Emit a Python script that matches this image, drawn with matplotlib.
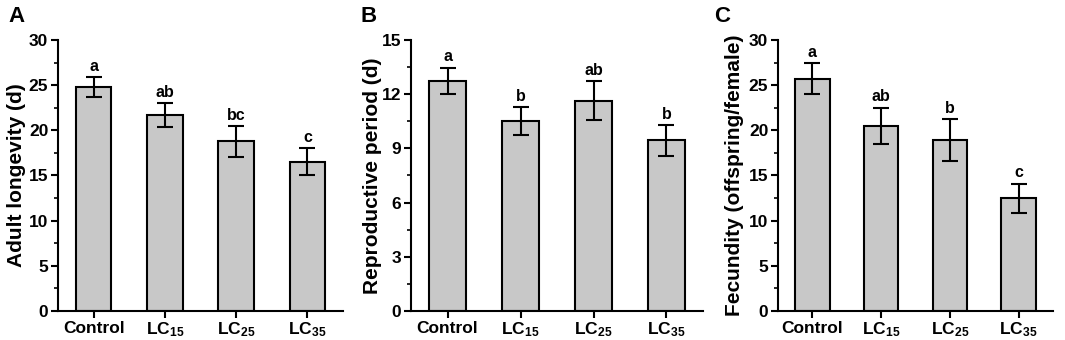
import numpy as np
import matplotlib
matplotlib.use("Agg")
import matplotlib.pyplot as plt
from matplotlib.ticker import AutoMinorLocator

plt.rcParams["font.family"] = ["Liberation Sans", "DejaVu Sans"]
plt.rcParams["font.weight"] = "bold"
plt.rcParams["mathtext.fontset"] = "custom"
plt.rcParams["mathtext.rm"] = "Liberation Sans:bold"
plt.rcParams["mathtext.default"] = "rm"

# --- data ---
groups = ["Control", "LC$_{15}$", "LC$_{25}$", "LC$_{35}$"]

longevity = [24.8, 21.7, 18.8, 16.5]
longevity_se = [1.1, 1.35, 1.7, 1.5]
longevity_sig = ["a", "ab", "bc", "c"]

repro = [12.75, 10.5, 11.65, 9.45]
repro_se = [0.72, 0.77, 1.07, 0.85]
repro_sig = ["a", "b", "ab", "b"]

fecundity = [25.7, 20.5, 18.9, 12.5]
fecundity_se = [1.7, 2.0, 2.3, 1.6]
fecundity_sig = ["a", "ab", "b", "c"]

panels = [
    ("A", longevity, longevity_se, longevity_sig, "Adult longevity (d)", 30, 5),
    ("B", repro, repro_se, repro_sig, "Reproductive period (d)", 15, 3),
    ("C", fecundity, fecundity_se, fecundity_sig, "Fecundity (offspring/female)", 30, 5),
]

# axes boxes in pixels (left, right); y from 40 to 311
W, H = 1065, 340
boxes = [(58, 343), (411, 703), (778, 1053)]
label_off = [-42, -38, -43]
letter_x = [8, 360, 714]

fig = plt.figure(figsize=(W / 100, H / 100), dpi=100)

for (lab, vals, errs, sig, ylabel, ymax, step), (x0, x1), off, lx in zip(panels, boxes, label_off, letter_x):
    ax = fig.add_axes([x0 / W, 1 - 311 / H, (x1 - x0) / W, (311 - 40) / H])
    x = np.arange(len(groups))
    ax.bar(x, vals, width=0.5, color="#c8c8c8", edgecolor="black", linewidth=1.5, zorder=2)
    ax.errorbar(x, vals, yerr=errs, fmt="none", ecolor="black", elinewidth=1.5,
                capsize=5.5, capthick=1.5, zorder=3)
    for xi, v, e, s in zip(x, vals, errs, sig):
        ax.text(xi, v + e + ymax * 0.012, s, ha="center", va="bottom",
                fontsize=11.5, fontweight="bold")
    ax.set_xlim(-0.5, 3.5)
    ax.set_ylim(0, ymax)
    ax.set_yticks(np.arange(0, ymax + 0.1, step))
    ax.yaxis.set_minor_locator(AutoMinorLocator(2))
    ax.set_xticks(x)
    ax.set_xticklabels(groups)
    ax.spines["top"].set_visible(False)
    ax.spines["right"].set_visible(False)
    ax.spines["left"].set_linewidth(1.5)
    ax.spines["bottom"].set_linewidth(1.5)
    ax.tick_params(axis="both", which="major", direction="out", length=5, width=1.5,
                   labelsize=12.5, pad=2)
    ax.tick_params(axis="y", which="minor", direction="out", length=3, width=1.2)
    for t in ax.get_xticklabels() + ax.get_yticklabels():
        t.set_fontweight("bold")
    ax.set_ylabel(ylabel, fontsize=15, fontweight="bold", va="center")
    ax.yaxis.set_label_coords(off / (x1 - x0), 0.5)
    fig.text(lx / W, 1 - 16 / H, lab, fontsize=16, fontweight="bold", va="center", ha="left")

fig.savefig("out.png", dpi=100)
